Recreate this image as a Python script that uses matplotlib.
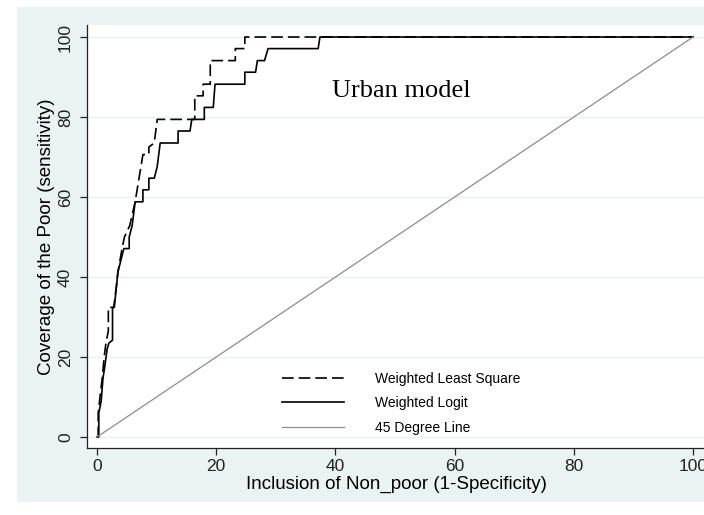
import matplotlib.pyplot as plt
from matplotlib.patches import Rectangle

# ROC curves (x = 1-specificity, y = sensitivity, both in %)
wls_x = [0, 0.2, 0.2, 0.5, 0.9, 1.2, 1.5, 1.9, 1.9, 2.8, 3.3, 3.5, 4.2, 4.6, 5.5,
         6.4, 7.7, 7.7, 8.7, 8.7, 9.6, 10.1, 15.6, 16.4, 16.4, 17.8, 17.8,
         19.0, 19.0, 23.2, 23.2, 24.0, 24.8, 24.8, 100]
wls_y = [0, 0, 6, 10, 15, 20, 23.5, 26.5, 32.4, 32.4, 38.2, 41.2, 47.1, 50.0, 52.9,
         58.8, 70.6, 70.6, 70.6, 72.5, 73.5, 79.4, 79.4, 79.4, 85.3, 85.3, 88.2,
         88.2, 94.1, 94.1, 97.1, 97.1, 97.1, 100, 100]

logit_x = [0, 0.3, 0.3, 0.7, 1.0, 1.3, 1.7, 2.0, 2.6, 2.6, 2.9, 3.5, 4.5, 5.4, 5.4,
           5.9, 6.4, 7.7, 7.7, 8.7, 8.7, 9.6, 10.1, 10.6, 13.6, 13.6, 15.6,
           15.9, 18.0, 18.0, 19.5, 19.8, 24.8, 24.8, 26.6, 26.9, 28.1, 28.7,
           37.1, 37.4, 100]
logit_y = [0, 0, 6, 9, 14.7, 17.6, 22, 23.5, 24.2, 32.4, 32.4, 41.2, 47.1, 47.1, 50.0,
           52.9, 58.8, 58.8, 61.8, 61.8, 64.7, 64.7, 67.6, 73.5, 73.5, 76.5, 76.5,
           79.4, 79.4, 82.4, 82.4, 88.2, 88.2, 91.2, 91.2, 94.1, 94.1, 97.1,
           97.1, 100, 100]

diag = [0, 100]

xticks = [0, 20, 40, 60, 80, 100]
yticks = [0, 20, 40, 60, 80, 100]

plt.rcParams['font.family'] = ['Liberation Sans', 'DejaVu Sans']

fig = plt.figure(figsize=(7.04, 5.15), dpi=100, facecolor='white')
# stata-like graph region
fig.patches.append(Rectangle((17/704, 13/515), 1.0, 495/515, transform=fig.transFigure,
                             facecolor='#eaf2f3', edgecolor='none', zorder=-10))

ax = fig.add_axes([87/704, 67/515, 618/704, 423/515])
ax.set_zorder(5)
ax.set_facecolor('white')

ax.plot(wls_x, wls_y, color='black', lw=1.2, ls=(0, (7, 3)), label='Weighted Least Square')
ax.plot(logit_x, logit_y, color='black', lw=1.2, label='Weighted Logit')
ax.plot(diag, diag, color='#8c8c8c', lw=0.9, label='45 Degree Line')

ax.set_xlim(-1.68, 102.0)
ax.set_ylim(-2.75, 103)
ax.set_xticks(xticks)
ax.set_yticks(yticks)
ax.set_yticklabels([str(t) for t in yticks], rotation=90, va='center')
ax.tick_params(axis='both', labelsize=12.5, length=5, width=0.9, colors='#222222')
ax.tick_params(axis='x', pad=3)
ax.tick_params(axis='y', pad=5)
ax.grid(axis='y', color='#eaf2f3', lw=1)
ax.set_axisbelow(True)

for s in ['top', 'right']:
    ax.spines[s].set_visible(False)
for s in ['left', 'bottom']:
    ax.spines[s].set_color('#222222')
    ax.spines[s].set_linewidth(0.9)

ax.set_xlabel('Inclusion of Non_poor (1-Specificity)', fontsize=13.5, labelpad=1)
ax.set_ylabel('Coverage of the Poor (sensitivity)', fontsize=13.5, labelpad=2)

ax.text(51, 86.5, 'Urban model', fontsize=19, family=['Liberation Serif', 'DejaVu Serif'],
        ha='center', va='center')

ax.legend(loc='upper left', bbox_to_anchor=(0.3155, 0.18), frameon=False, fontsize=10,
          handlelength=4.5, handletextpad=2.2, labelspacing=0.75, borderpad=0,
          borderaxespad=0)

fig.savefig('out.png', dpi=100, facecolor='white')
